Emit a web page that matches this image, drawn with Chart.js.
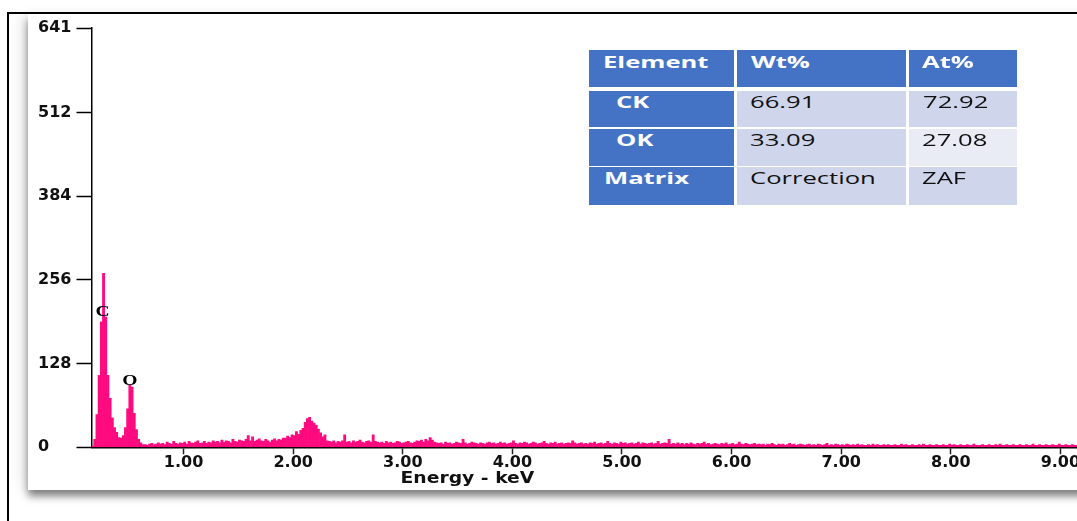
<!DOCTYPE html>
<html>
<head>
<meta charset="utf-8">
<script src="https://cdn.jsdelivr.net/npm/chart.js@4/dist/chart.umd.min.js"></script>
<style>
  html, body { margin: 0; padding: 0; background: #fff; width: 1077px; height: 521px; overflow: hidden; }
  #frame { position: absolute; left: 7px; top: 12px; width: 1200px; height: 600px;
           border-left: 2px solid #000; border-top: 2px solid #000; }
  #card { position: absolute; left: 28px; top: 14px; width: 1200px; height: 476px; background: #fff;
          box-shadow: 0 6px 8px rgba(0,0,0,0.5), -10px 0 14px -2px rgba(0,0,0,0.07); }
  #chart { position: absolute; left: 0; top: 0; }
  .cell { position: absolute; box-sizing: border-box; font-family: "Open Sans", sans-serif; font-size: 16px;
          line-height: 16px; white-space: nowrap; overflow: visible; }
  .cell span { display: inline-block; transform: scaleX(1.6); transform-origin: left center; }
  .hd { background: #4472C4; color: #fff; font-weight: 700; }
  .dk { background: #CFD5EA; color: #111; }
  .lt { background: #E9EBF5; color: #111; }
</style>
</head>
<body>
<div id="frame"></div>
<div id="card"></div>
<canvas id="chart" width="1200" height="521"></canvas>
<div id="table"></div>
<script>
// ---- data ----
const channelStartKeV = 0.16;
const channelWidthKeV = 0.02;
// counts per 0.02 keV channel
const counts = [
  2,12,50,110,192,266,199,110,75,45,30,23,15,14,18,30,59,95,92,52,27,12,7,4,
  4,3,5,6,4,5,7,5,6,4,8,6,5,9,6,5,7,
  6,8,5,9,7,6,8,10,6,7,9,6,8,7,10,8,
  9,7,11,8,10,9,7,12,9,8,11,10,9,12,18,10,
  16,9,11,13,10,9,12,10,8,11,13,10,12,11,14,
  14,17,15,19,18,24,20,26,29,38,44,46,40,37,34,28,22,16,19,10,
  9,8,10,7,9,8,10,19,8,9,7,10,8,9,11,8,7,9,10,8,19,9,8,
  7,8,6,9,7,8,6,7,9,8,6,7,8,9,7,6,8,10,9,11,8,12,10,15,11,8,7,
  6,7,5,8,6,7,5,6,8,7,6,12,7,5,6,8,7,6,5,7,
  6,5,7,8,6,7,5,6,8,6,7,5,6,7,10,6,5,7,6,8,
  7,5,6,8,7,5,6,7,9,6,5,7,6,8,5,6,7,5,6,7,
  6,10,7,5,6,7,5,
  6,5,7,6,8,5,6,7,5,6,9,6,5,7,6,5,8,6,7,5,
  6,7,5,6,8,5,7,6,5,6,7,5,6,9,5,6,7,6,12,5,
  6,5,7,5,6,4,6,5,7,5,4,6,5,6,8,5,6,4,5,6,
  5,4,6,5,7,4,5,6,4,5,8,5,4,6,5,4,5,6,4,5,
  4,5,3,5,4,6,4,3,5,4,5,3,4,6,4,5,3,4,5,4,
  3,4,5,3,4,3,5,4,3,4,6,3,4,3,5,4,3,4,3,5,
  4,3,4,3,5,3,4,3,3,4,3,5,3,4,3,3,4,3,4,3,
  3,4,3,3,5,3,4,3,3,4,3,3,4,3,5,3,3,4,3,3,
  4,3,3,4,3,3,5,3,4,3,3,4,3,3,4,3,3,5,3,3,
  3,4,3,3,4,3,3,4,3,5,3,3,4,3,3,4,3,3,4,3,
  3,4,3,3,5,3,3,4,3,3,4,3,3,4,3,3,5,3,3,4,3,3,4,3,3,4,3
];
const xTickValues = [1, 2, 3, 4, 5, 6, 7, 8, 9, 10];
const yTickValues = [0, 128, 256, 384, 512, 641];
const xAxisTitle = 'Energy - keV';
const xAxisTitleAtKeV = 3.59;
const peakLabels = ['C', 'O'];
const peakLabelEnergy = [0.262, 0.511];
const peakLabelCounts = [206, 101];

const tableHeader = ['Element', 'Wt%', 'At%'];
const tableRows = [
  ['CK', '66.91', '72.92'],
  ['OK', '33.09', '27.08'],
  ['Matrix', 'Correction', 'ZAF']
];

// ---- table ----
(function buildTable() {
  const colLeft = [589, 737, 909], colW = [145, 169, 108];
  const rowTop = [50, 91, 129, 167], rowH = [37, 36, 37, 38];
  const shade = [['hd','dk','dk'], ['hd','dk','lt'], ['hd','dk','dk']];
  const indent = [[14,14,13], [27,13,14], [27,13,13], [15,13,13]];
  const host = document.getElementById('table');
  const all = [tableHeader].concat(tableRows);
  all.forEach((row, r) => {
    row.forEach((txt, c) => {
      const d = document.createElement('div');
      d.className = 'cell ' + (r === 0 ? 'hd' : shade[r-1][c]);
      d.style.left = colLeft[c] + 'px';
      d.style.top = rowTop[r] + 'px';
      d.style.width = colW[c] + 'px';
      d.style.height = rowH[r] + 'px';
      d.style.paddingLeft = indent[r][c] + 'px';
      d.style.paddingTop = (r === 0 ? 4 : 3) + 'px';
      if (c === 0) d.style.fontWeight = '700';
      const s = document.createElement('span');
      s.textContent = txt;
      d.appendChild(s);
      host.appendChild(d);
    });
  });
})();

// ---- chart ----
const points = counts.map((c, i) => ({ x: channelStartKeV + channelWidthKeV * (i + 0.5), y: c }));

const annotationPlugin = {
  id: 'annotations',
  afterDatasetsDraw(chart) {
    const { ctx, scales } = chart;
    ctx.save();
    ctx.fillStyle = '#000';
    ctx.textAlign = 'center';
    ctx.textBaseline = 'middle';
    ctx.font = 'bold 14px "Liberation Serif", serif';
    peakLabels.forEach((t, i) => {
      const px = scales.x.getPixelForValue(peakLabelEnergy[i]);
      const py = scales.y.getPixelForValue(peakLabelCounts[i]);
      ctx.save();
      ctx.translate(px, py);
      ctx.scale(1.4, 1);
      ctx.fillText(t, 0, 0);
      ctx.restore();
    });
    // x axis title
    ctx.fillStyle = '#111';
    ctx.font = 'bold 15px "DejaVu Sans", sans-serif';
    const tx = scales.x.getPixelForValue(xAxisTitleAtKeV);
    const ty = scales.x.bottom - 8.5;
    ctx.translate(tx, ty);
    ctx.scale(1.25, 1);
    ctx.fillText(xAxisTitle, 0, 0);
    ctx.restore();
  }
};

new Chart(document.getElementById('chart'), {
  type: 'bar',
  data: {
    datasets: [{
      data: points,
      backgroundColor: '#ff0a7f',
      borderWidth: 0,
      barPercentage: 1,
      categoryPercentage: 1
    }]
  },
  options: {
    responsive: false,
    animation: false,
    devicePixelRatio: 1,
    layout: { padding: { left: 38, right: 30, top: 28, bottom: 33.7 } },
    plugins: { legend: { display: false }, tooltip: { enabled: false } },
    scales: {
      x: {
        type: 'linear', min: 0.16, max: 10, offset: false, z: 1,
        grid: { display: true, offset: false, drawOnChartArea: false, drawTicks: true, tickLength: 7, color: '#222', tickWidth: 1.5 },
        border: { display: true, color: '#000', width: 1.5 },
        afterBuildTicks: s => { s.ticks = xTickValues.map(v => ({ value: v })); },
        afterFit: s => { s.height = 40; },
        ticks: {
          callback: v => Number(v).toFixed(2),
          autoSkip: false, maxRotation: 0, padding: 1, color: '#111',
          font: { family: '"DejaVu Sans", sans-serif', size: 16, weight: 'bold', lineHeight: 1 }
        },
        title: { display: false }
      },
      y: {
        min: 0, max: 641, z: 1,
        grid: { display: true, drawOnChartArea: false, drawTicks: true, tickLength: 15, color: '#000', tickWidth: 1.5 },
        border: { display: true, color: '#000', width: 1.5 },
        afterBuildTicks: s => { s.ticks = yTickValues.map(v => ({ value: v })); },
        afterFit: s => { s.width = 53.5; },
        ticks: {
          crossAlign: 'far', padding: 5, color: '#111', autoSkip: false,
          font: { family: '"DejaVu Sans", sans-serif', size: 16, weight: 'bold', lineHeight: 1 }
        }
      }
    }
  },
  plugins: [annotationPlugin]
});
</script>
</body>
</html>
